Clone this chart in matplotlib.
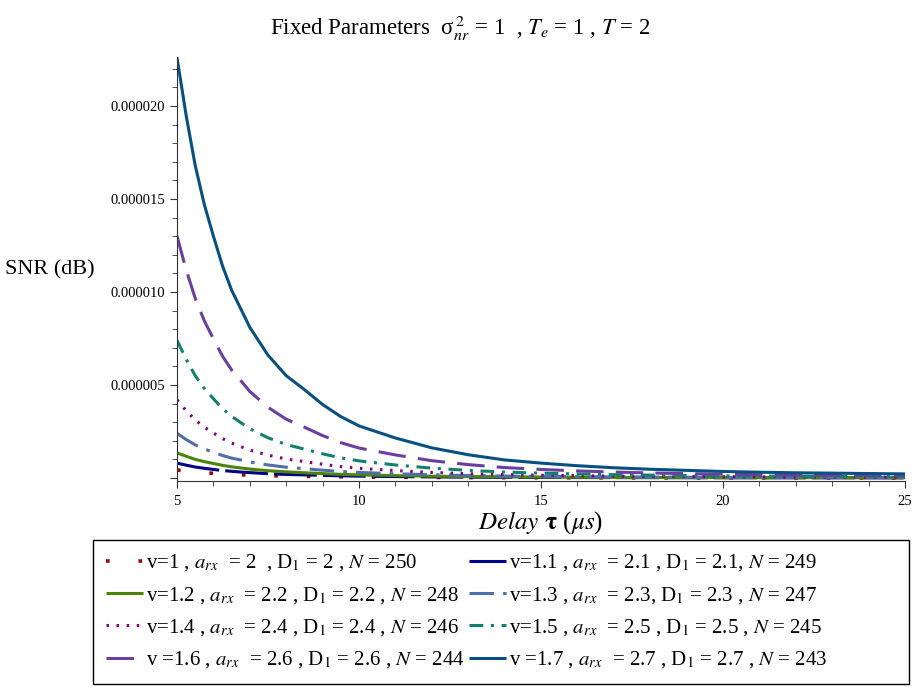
import numpy as np
import matplotlib
matplotlib.use('Agg')
from matplotlib import pyplot as plt
from matplotlib.patches import Rectangle
from matplotlib.ticker import MultipleLocator, FuncFormatter

plt.rcParams['font.family'] = ['Liberation Serif', 'DejaVu Serif']
plt.rcParams['mathtext.fontset'] = 'stix'

delay = [5, 5.25, 5.5, 5.75, 6, 6.25, 6.5, 6.75, 7, 7.5, 8, 8.5, 9, 9.5, 10,
         11, 12, 13, 14, 15, 16, 17, 18, 19, 20, 21, 22, 23, 24, 25]

# SNR values, in units of 1e-6
snr_v10 = [0.43, 0.37, 0.32, 0.28, 0.25, 0.22, 0.19, 0.17, 0.154, 0.126, 0.104, 0.090, 0.075, 0.063, 0.053,
           0.041, 0.031, 0.024, 0.018, 0.015, 0.0126, 0.0104, 0.0089, 0.0078, 0.0067, 0.0059, 0.0053, 0.0049, 0.0046, 0.0042]
snr_v11 = [0.80, 0.69, 0.59, 0.52, 0.46, 0.40, 0.36, 0.32, 0.29, 0.23, 0.19, 0.168, 0.14, 0.117, 0.099,
           0.076, 0.057, 0.044, 0.034, 0.028, 0.023, 0.019, 0.017, 0.014, 0.012, 0.011, 0.0099, 0.0092, 0.0085, 0.0078]
snr_v12 = [1.35, 1.17, 1.00, 0.88, 0.78, 0.68, 0.60, 0.54, 0.48, 0.39, 0.33, 0.28, 0.236, 0.197, 0.167,
           0.128, 0.097, 0.075, 0.058, 0.048, 0.039, 0.033, 0.028, 0.024, 0.021, 0.018, 0.017, 0.016, 0.014, 0.013]
snr_v13 = [2.4, 2.07, 1.78, 1.56, 1.38, 1.21, 1.07, 0.97, 0.86, 0.70, 0.58, 0.50, 0.42, 0.35, 0.30,
           0.23, 0.172, 0.133, 0.103, 0.085, 0.070, 0.058, 0.050, 0.043, 0.037, 0.033, 0.030, 0.028, 0.025, 0.023]
snr_v14 = [4.2, 3.62, 3.12, 2.73, 2.42, 2.12, 1.88, 1.69, 1.50, 1.23, 1.02, 0.88, 0.74, 0.61, 0.52,
           0.40, 0.30, 0.23, 0.18, 0.149, 0.123, 0.102, 0.087, 0.076, 0.065, 0.058, 0.052, 0.048, 0.045, 0.041]
snr_v15 = [7.4, 6.39, 5.50, 4.81, 4.26, 3.73, 3.31, 2.98, 2.65, 2.16, 1.80, 1.55, 1.30, 1.08, 0.92,
           0.70, 0.53, 0.41, 0.32, 0.26, 0.22, 0.18, 0.154, 0.134, 0.115, 0.101, 0.092, 0.085, 0.078, 0.072]
snr_v16 = [13.0, 11.2, 9.66, 8.45, 7.48, 6.55, 5.81, 5.24, 4.65, 3.80, 3.16, 2.73, 2.28, 1.90, 1.61,
           1.24, 0.93, 0.72, 0.56, 0.46, 0.38, 0.32, 0.27, 0.235, 0.20, 0.178, 0.161, 0.15, 0.138, 0.126]
snr_v17 = [22.6, 19.5, 16.8, 14.7, 13.0, 11.4, 10.1, 9.1, 8.1, 6.6, 5.5, 4.75, 3.95, 3.3, 2.8,
           2.15, 1.62, 1.25, 0.97, 0.80, 0.66, 0.55, 0.47, 0.41, 0.35, 0.31, 0.28, 0.26, 0.24, 0.22]

labels = [
    r"v=1 , $a_{rx}$  = 2  , D$_1$ = 2 , $N$ = 250",
    r"v=1.1 , $a_{rx}$  = 2.1 , D$_1$ = 2.1, $N$ = 249",
    r"v=1.2 , $a_{rx}$  = 2.2 , D$_1$ = 2.2 , $N$ = 248",
    r"v=1.3 , $a_{rx}$  = 2.3, D$_1$ = 2.3 , $N$ = 247",
    r"v=1.4 , $a_{rx}$  = 2.4 , D$_1$ = 2.4 , $N$ = 246",
    r"v=1.5 , $a_{rx}$  = 2.5 , D$_1$ = 2.5 , $N$ = 245",
    r"v =1.6 , $a_{rx}$  = 2.6 , D$_1$ = 2.6 , $N$ = 244",
    r"v =1.7 , $a_{rx}$  = 2.7 , D$_1$ = 2.7 , $N$ = 243",
]
series = [snr_v10, snr_v11, snr_v12, snr_v13, snr_v14, snr_v15, snr_v16, snr_v17]
colors = ['#a00000', '#00008b', '#4b8400', '#4f6fa8', '#800080', '#13806f', '#6b3fa0', '#08507f']
styles = [(0, (1, 8)), (0, (14, 2)), '-', (0, (8, 3, 1.2, 3)), (0, (0.8, 2.5)),
          (0, (4.5, 2.5, 1, 2.5)), (0, (9, 4)), '-']
widths = [2.6, 2.2, 2.2, 2.2, 2.2, 2.2, 2.2, 2.2]

fig = plt.figure(figsize=(9.21, 6.87), dpi=100)
ax = fig.add_axes([0.1922, 0.2999, 0.7904, 0.6171])

handles = []
for s, c, ls, lw, lab in zip(series, colors, styles, widths, labels):
    h, = ax.plot(delay, np.array(s) * 1e-6, color=c, linestyle=ls, linewidth=lw,
                 label=lab, solid_capstyle='butt', dash_capstyle='butt')
    handles.append(h)

ax.set_xlim(5, 25)
ax.set_ylim(-0.16e-6, 2.263e-5)
ax.spines['top'].set_visible(False)
ax.spines['right'].set_visible(False)
for sp in ['left', 'bottom']:
    ax.spines[sp].set_color('#333333')
ax.xaxis.set_major_locator(MultipleLocator(5))
ax.xaxis.set_minor_locator(MultipleLocator(1))
ax.yaxis.set_major_locator(MultipleLocator(5e-6))
ax.yaxis.set_minor_locator(MultipleLocator(1e-6))
ax.yaxis.set_major_formatter(FuncFormatter(lambda v, p: '' if v < 1e-7 else '%.6f' % v))
ax.tick_params(which='major', length=5, color='#333333', labelsize=10.5)
ax.tick_params(which='minor', length=3.5, color='#333333')
ax.tick_params(axis='x', pad=5)

fig.text(0.5, 0.958, u"Fixed Parameters  σ" + r"$_{nr}^{\,2}$ = 1  , $T_e$ = 1 , $T$ = 2",
         ha='center', va='center', fontsize=16.5)
fig.text(0.005, 1 - 270 / 687, "SNR (dB)", ha='left', va='center', fontsize=16)
fig.text(0.587, 1 - 523 / 687, r"$\it{Delay}$ $\mathbf{\tau}$ ($\mu s$)",
         ha='center', va='center', fontsize=18)

# legend entries without a frame; the box is drawn separately so it can be as wide as the original
order = [0, 2, 4, 6, 1, 3, 5, 7]
leg = fig.legend([handles[i] for i in order], [labels[i] for i in order], ncol=2,
                 loc='upper left', bbox_to_anchor=(93 / 921, 1 - 540 / 687),
                 fontsize=15, frameon=False,
                 handlelength=1.8, handletextpad=0.15, columnspacing=0.2,
                 labelspacing=0.55, borderpad=0.6, borderaxespad=0)
fig.patches.append(Rectangle((93 / 921, 1 - 684 / 687), 816 / 921, 144 / 687,
                             transform=fig.transFigure, fill=False,
                             edgecolor='black', linewidth=1.0))

fig.savefig('out.png', dpi=100)
